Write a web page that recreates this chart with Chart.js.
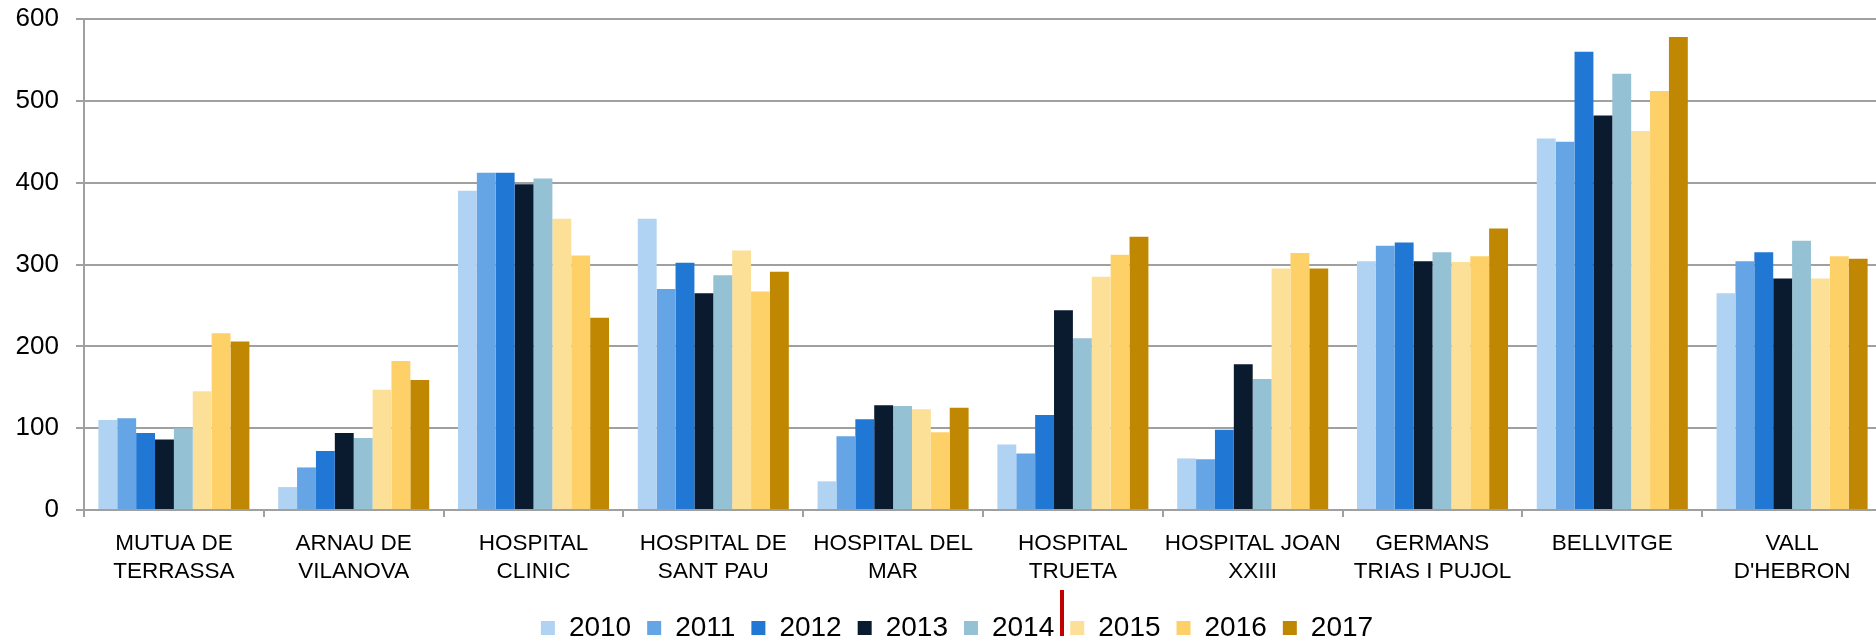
<!DOCTYPE html>
<html>
<head>
<meta charset="utf-8">
<script src="https://cdn.jsdelivr.net/npm/chart.js@4/dist/chart.umd.min.js"></script>
<style>
  html, body { margin: 0; padding: 0; background: #fff; overflow: hidden; }
  #wrap { position: relative; width: 1882px; height: 652px; }
  #mark { position: absolute; left: 1060px; top: 590px; width: 4px; height: 60px; background: #c00000; }
</style>
</head>
<body>
<div id="wrap">
  <canvas id="chart"></canvas>
  <div id="mark"></div>
</div>
<script>
  const hospitals = [
    ['MUTUA DE', 'TERRASSA'],
    ['ARNAU DE', 'VILANOVA'],
    ['HOSPITAL', 'CLINIC'],
    ['HOSPITAL DE', 'SANT PAU'],
    ['HOSPITAL DEL', 'MAR'],
    ['HOSPITAL', 'TRUETA'],
    ['HOSPITAL JOAN', 'XXIII'],
    ['GERMANS', 'TRIAS I PUJOL'],
    ['BELLVITGE'],
    ['VALL', "D'HEBRON"]
  ];
  const years = ['2010', '2011', '2012', '2013', '2014', '2015', '2016', '2017'];

  const y2010 = [110, 28, 390, 356, 35, 80, 63, 304, 454, 265];
  const y2011 = [112, 52, 412, 270, 90, 69, 62, 323, 450, 304];
  const y2012 = [94, 72, 412, 302, 111, 116, 98, 327, 560, 315];
  const y2013 = [86, 94, 398, 265, 128, 244, 178, 304, 482, 283];
  const y2014 = [100, 88, 405, 287, 127, 210, 160, 315, 533, 329];
  const y2015 = [145, 147, 356, 317, 123, 285, 295, 303, 463, 283];
  const y2016 = [216, 182, 311, 267, 95, 312, 314, 310, 512, 310];
  const y2017 = [206, 159, 235, 291, 125, 334, 295, 344, 578, 307];

  const yTicks = [0, 100, 200, 300, 400, 500, 600];

  const seriesValues = [y2010, y2011, y2012, y2013, y2014, y2015, y2016, y2017];
  const colors = ['#b0d2f3', '#65a4e5', '#2177d4', '#0a1a2f', '#94c1d3', '#fde098', '#fdd068', '#c08802'];

  Chart.defaults.font.family = "'Liberation Sans', Arial, sans-serif";
  Chart.defaults.color = '#000';

  // move the legend row a bit to the right, like the original
  const legendShift = {
    id: 'legendShift',
    afterLayout(chart) {
      chart.legend.left += 16;
      chart.legend.right += 16;
    }
  };

  new Chart(document.getElementById('chart'), {
    type: 'bar',
    data: {
      labels: hospitals,
      datasets: years.map((y, i) => ({
        label: y,
        data: seriesValues[i],
        backgroundColor: colors[i],
        borderWidth: 0,
        categoryPercentage: 0.84,
        barPercentage: 1.0
      }))
    },
    options: {
      responsive: true,
      maintainAspectRatio: false,
      animation: false,
      layout: { padding: { top: 19, left: 0, right: 0, bottom: 0 } },
      plugins: {
        legend: {
          position: 'bottom',
          labels: {
            boxWidth: 14,
            boxHeight: 14,
            padding: 16,
            font: { size: 28 }
          }
        },
        tooltip: { enabled: false }
      },
      scales: {
        x: {
          grid: {
            offset: true,
            drawOnChartArea: false,
            drawTicks: true,
            tickLength: 7,
            color: '#a0a0a0',
            lineWidth: 2
          },
          border: { color: '#a0a0a0', width: 2 },
          ticks: {
            autoSkip: false,
            maxRotation: 0,
            padding: 12,
            font: { size: 22.5, lineHeight: 1.28 }
          },
          afterFit(scale) { scale.height = 88; }
        },
        y: {
          min: 0,
          max: 600,
          afterBuildTicks(scale) { scale.ticks = yTicks.map(v => ({ value: v })); },
          grid: {
            color: '#a0a0a0',
            lineWidth: 2,
            drawTicks: true,
            tickLength: 8
          },
          border: { color: '#a0a0a0', width: 2 },
          ticks: {
            padding: 17,
            font: { size: 26 }
          },
          afterFit(scale) {
            scale.width = 84;
            scale.paddingTop = 0;
            scale.paddingBottom = 0;
          }
        }
      }
    },
    plugins: [legendShift]
  });
</script>
</body>
</html>
